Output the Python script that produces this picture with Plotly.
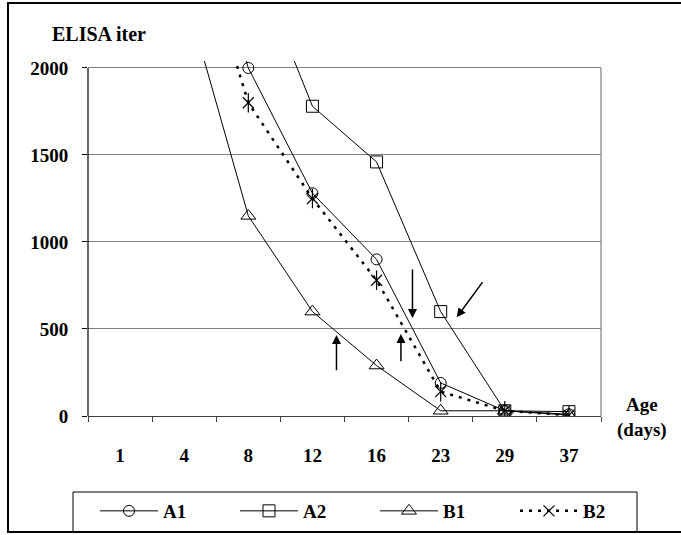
import plotly.graph_objects as go

# Antibody titre (ELISA) by age of the chicks
days = ["1", "4", "8", "12", "16", "23", "29", "37"]
a1 = [None, 3200, 2000, 1280, 900, 190, 30, 10]
a2 = [None, None, 2700, 1780, 1460, 600, 30, 25]
b1 = [None, 2450, 1150, 600, 290, 30, 30, 5]
b2 = [None, 3000, 1800, 1250, 780, 140, 30, 5]

# Arrow annotations: (tail x, tail y, head x, head y) on category index / titre scale
arrows = [
    (3.375, 255, 3.375, 466),
    (4.56, 851, 4.56, 563),
    (4.38, 306, 4.38, 471),
    (5.67, 778, 5.25, 567),
]

SERIF = "Liberation Serif, Times New Roman, serif"
W, H = 681, 535
L, R, T, B = 88, 80, 61, 119
pw, ph = W - L - R, H - T - B


def px_x(v):
    return (v - L) / pw


def px_y(v):
    return (H - B - v) / ph


fig = go.Figure()

solid = dict(color="black", width=1)
fig.add_trace(go.Scatter(x=days, y=a1, name="<b>A1</b>", mode="lines+markers", line=solid,
                         marker=dict(symbol="circle-open", size=11, color="black", line=dict(width=1))))
fig.add_trace(go.Scatter(x=days, y=a2, name="<b>A2</b>", mode="lines+markers", line=solid,
                         marker=dict(symbol="square-open", size=12, color="black", line=dict(width=1))))
fig.add_trace(go.Scatter(x=days, y=b1, name="<b>B1</b>", mode="lines+markers", line=solid,
                         marker=dict(symbol="triangle-up-open", size=13, color="black", line=dict(width=1))))
fig.add_trace(go.Scatter(x=days, y=b2, name="<b>B2</b>", mode="lines+markers", legendgroup="b2",
                         line=dict(color="black", width=2.5, dash="3px,6px"),
                         marker=dict(symbol="x-thin-open", size=11, color="black", line=dict(width=1.2))))
# vertical stroke completing the six-armed star of B2
fig.add_trace(go.Scatter(x=days, y=b2, mode="markers", legendgroup="b2", showlegend=False,
                         marker=dict(symbol="line-ns-open", size=14, color="black", line=dict(width=1.2))))

for tx, ty, hx, hy in arrows:
    fig.add_annotation(x=hx, y=hy, ax=tx, ay=ty, xref="x", yref="y", axref="x", ayref="y",
                       showarrow=True, arrowhead=2, arrowsize=1.2, arrowwidth=1.5,
                       arrowcolor="black", text="")

fig.add_annotation(x=px_x(50), y=px_y(34), xref="paper", yref="paper", xanchor="left",
                   yanchor="middle", showarrow=False, text="<b>ELISA iter</b>",
                   font=dict(family=SERIF, size=20, color="black"))
fig.add_annotation(x=px_x(642), y=px_y(417), xref="paper", yref="paper", xanchor="center",
                   yanchor="middle", showarrow=False, text="<b>Age</b><br><b>(days)</b>",
                   font=dict(family=SERIF, size=19, color="black"))

# outer frame, legend frame, left axis line, right plot border
fig.add_shape(type="rect", xref="paper", yref="paper", x0=px_x(8), x1=px_x(700),
              y0=px_y(532), y1=px_y(3), line=dict(color="black", width=2), layer="below")
fig.add_shape(type="rect", xref="paper", yref="paper", x0=px_x(73), x1=px_x(637),
              y0=px_y(532), y1=px_y(492), line=dict(color="black", width=1), layer="below")
fig.add_shape(type="line", xref="paper", yref="y", x0=0, x1=0, y0=0, y1=2000,
              line=dict(color="black", width=1.2))
fig.add_shape(type="line", xref="paper", yref="y", x0=1, x1=1, y0=0, y1=2000,
              line=dict(color="#808080", width=1.2))

fig.update_layout(
    width=W, height=H,
    margin=dict(l=L, r=R, t=T, b=B, autoexpand=False),
    paper_bgcolor="white", plot_bgcolor="white",
    font=dict(family=SERIF, size=19, color="black"),
    showlegend=True,
    legend=dict(orientation="h", x=px_x(655), y=px_y(492), xanchor="right", yanchor="top",
                borderwidth=0, bgcolor="rgba(0,0,0,0)",
                entrywidth=67, entrywidthmode="pixels", itemwidth=58,
                font=dict(family=SERIF, size=19, color="black")),
    xaxis=dict(type="category", categoryorder="array", categoryarray=days,
               range=[-0.5, 7.5], showgrid=False, showline=True, linecolor="#404040",
               linewidth=1.2, ticks="outside", tickson="boundaries", ticklen=5,
               tickcolor="#404040", ticklabelstandoff=22, zeroline=False,
               tickfont=dict(family=SERIF, size=19, color="black")),
    yaxis=dict(range=[0, 2040], tickvals=[0, 500, 1000, 1500, 2000],
               ticktext=["<b>0</b>", "<b>500</b>", "<b>1000</b>", "<b>1500</b>", "<b>2000</b>"],
               showgrid=True, gridcolor="#808080", gridwidth=1.2, showline=False,
               zeroline=False, ticks="outside", ticklen=5, tickcolor="black",
               ticklabelstandoff=10, tickfont=dict(family=SERIF, size=19, color="black")),
)
fig.update_xaxes(ticktext=["<b>%s</b>" % d for d in days], tickvals=days)

fig.write_html("out.html")
